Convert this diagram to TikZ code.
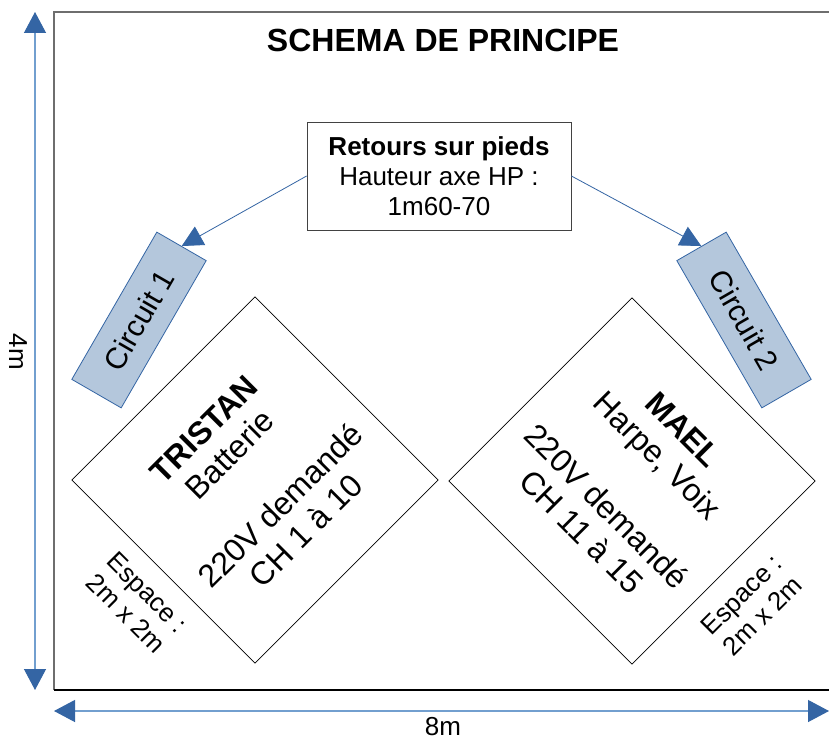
\documentclass[tikz,border=0pt]{standalone}
\usepackage{fontspec}
\setmainfont{Liberation Sans}
\usetikzlibrary{arrows.meta}
\definecolor{bleu}{HTML}{3465A4}
\definecolor{bleuclair}{HTML}{729FCF}
\definecolor{bleufond}{HTML}{B4C7DC}
\definecolor{gris}{HTML}{6E6E6E}

\begin{document}
\begin{tikzpicture}[x=1pt,y=-1pt,
  fleche/.style={draw=bleu,line width=0.8pt,-{Triangle[length=21pt,width=21pt]}},
  cote/.style={draw=bleuclair,line width=1.2pt,{Triangle[length=21pt,width=22pt,color=bleu]}-{Triangle[length=21pt,width=22pt,color=bleu]}},
  circuit/.style={draw=bleu,fill=bleufond,line width=0.8pt,minimum width=170pt,minimum height=57pt,inner sep=0pt,font=\fontsize{30}{36}\selectfont},
  zone/.style={draw,line width=0.7pt,minimum size=259pt,inner sep=0pt,align=center,font=\fontsize{32}{36}\selectfont},
  espace/.style={align=center,font=\fontsize{26}{30}\selectfont},
  cotetexte/.style={font=\fontsize{26}{30}\selectfont}]
\useasboundingbox (0,0) rectangle (829,738);
\fill[white] (0,0) rectangle (829,738);

\draw[gris,line width=1.5pt] (54,690) -- (54,12) -- (829,12);
\draw[line width=1.2pt] (54,690) -- (829,690);

\node[font=\fontsize{32}{38}\selectfont\bfseries,anchor=base] (titre) at (443,52) {SCHEMA DE PRINCIPE};
\node[draw=gris!60!black,line width=0.8pt,minimum width=264pt,minimum height=108pt,align=center,font=\fontsize{26}{30}\selectfont] (retours) at (439,176) {\textbf{Retours sur pieds}\\Hauteur axe HP :\\1m60-70};

\node[circuit,rotate=60] (circuit1) at (139,320) {Circuit 1};
\node[circuit,rotate=-60] (circuit2) at (744,320) {Circuit 2};

\node[zone,rotate=45] (tristan) at (255,480) {\textbf{TRISTAN}\\Batterie\\[36pt]220V demandé\\CH 1 à 10};
\node[zone,rotate=-45] (mael) at (632,481) {\textbf{MAEL}\\Harpe, Voix\\[36pt]220V demandé\\CH 11 à 15};

\node[espace,rotate=-45] (espace1) at (137,603) {Espace :\\2m x 2m};
\node[espace,rotate=45] (espace2) at (752,605) {Espace :\\2m x 2m};

\draw[fleche] (retours.west) -- (circuit1.east);
\draw[fleche] (retours.east) -- (circuit2.west);

\coordinate (haut) at (35,12);
\coordinate (bas) at (35,690);
\coordinate (gauche) at (54,711);
\coordinate (droite) at (829,711);
\draw[cote] (haut) -- (bas);
\draw[cote] (gauche) -- (droite);
\node[cotetexte,rotate=-90] (quatre) at (18,352) {4m};
\node[cotetexte,anchor=base] (huit) at (443,735) {8m};
\end{tikzpicture}
\end{document}
